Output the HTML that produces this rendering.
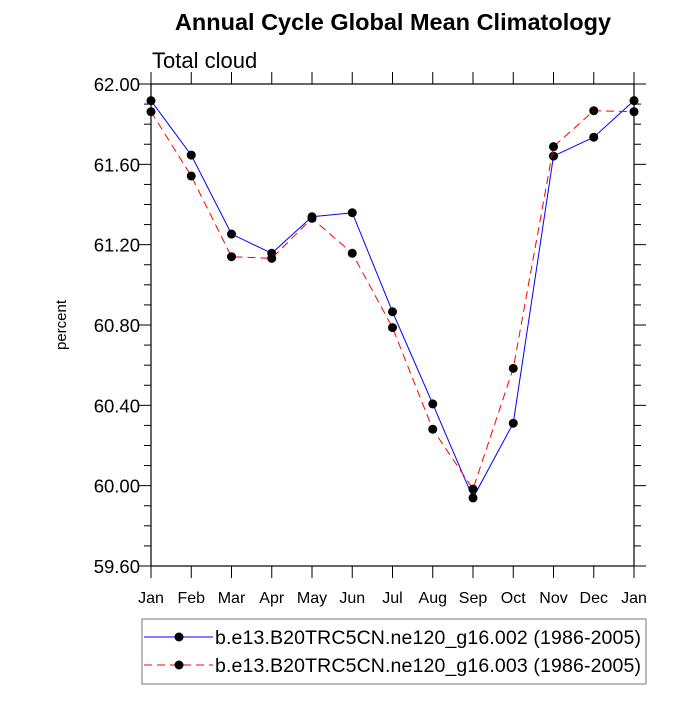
<!DOCTYPE html>
<html><head><meta charset="utf-8"><style>
html,body{margin:0;padding:0;background:#fff;}
svg text{font-family:"Liberation Sans",sans-serif;}
</style></head><body>
<svg id="chart" width="700" height="700" viewBox="0 0 700 700" xmlns="http://www.w3.org/2000/svg">
<text x="393" y="30" text-anchor="middle" font-size="23.5" font-weight="bold">Annual Cycle Global Mean Climatology</text>
<text x="152" y="68" font-size="22">Total cloud</text>
<text transform="translate(66,325) rotate(-90)" text-anchor="middle" font-size="15">percent</text>
<g id="plot"></g>
<g>
<rect x="142" y="619" width="504" height="65" fill="none" stroke="#777" stroke-width="1"/>
<g>
<line x1="144" y1="637" x2="213" y2="637" stroke="#0000ff" stroke-width="1"/>
<circle cx="179" cy="637" r="4.5" fill="#000"/>
<text x="215" y="644" textLength="426" font-size="19.5">b.e13.B20TRC5CN.ne120_g16.002 (1986-2005)</text>
</g>
<g>
<line x1="144" y1="665" x2="213" y2="665" stroke="#ff0000" stroke-width="1" stroke-dasharray="8,5"/>
<circle cx="179" cy="665" r="4.5" fill="#000"/>
<text x="215" y="672" textLength="426" font-size="19.5">b.e13.B20TRC5CN.ne120_g16.003 (1986-2005)</text>
</g>
</g>
</svg>
<script>
const months = ["Jan","Feb","Mar","Apr","May","Jun","Jul","Aug","Sep","Oct","Nov","Dec","Jan"];
const series002 = [61.917,61.646,61.253,61.157,61.339,61.359,60.866,60.407,59.939,60.311,61.641,61.735,61.917];
const series003 = [61.862,61.542,61.140,61.132,61.331,61.157,60.787,60.281,59.983,60.584,61.688,61.867,61.862];
const yTicks = ["59.60","60.00","60.40","60.80","61.20","61.60","62.00"];
const L=151,R=634,T=84,B=566,yMin=59.6,yMax=62.0;
const xs=i=>L+(R-L)*i/(months.length-1);
const ys=v=>B-(v-yMin)/(yMax-yMin)*(B-T);
const NS="http://www.w3.org/2000/svg";
const g=document.getElementById('plot');
function mk(t,a){const e=document.createElementNS(NS,t);for(const k in a)e.setAttribute(k,a[k]);g.appendChild(e);return e;}
let fr=mk('rect',{x:L,y:T,width:R-L,height:B-T,fill:'none',stroke:'#000','stroke-width':1.2});


for(let v=yMin;v<=yMax+1e-6;v+=0.1){
  const y=ys(v);const major=Math.abs((v-yMin)/0.4-Math.round((v-yMin)/0.4))<1e-3;const len=major?12:7;
  let t1=mk('line',{x1:L-len,y1:y,x2:L,y2:y,stroke:'#000','stroke-width':1});
  
  
  let t2=mk('line',{x1:R,y1:y,x2:R+len,y2:y,stroke:'#000','stroke-width':1});
  
  
}
yTicks.forEach(s=>{
  const tx=mk('text',{x:140,y:ys(parseFloat(s))+7,'text-anchor':'end','font-size':18.5});tx.textContent=s;
  
  
});
months.forEach((m,i)=>{
  const x=xs(i);
  let a=mk('line',{x1:x,y1:B,x2:x,y2:B+12,stroke:'#000','stroke-width':1});
  
  
  let b=mk('line',{x1:x,y1:T-12,x2:x,y2:T,stroke:'#000','stroke-width':1});
  
  
  const tx=mk('text',{x:x,y:603,'text-anchor':'middle','font-size':16});tx.textContent=m;
  
  
});
function drawSeries(vals,color,dash,name){
  const p=mk('polyline',{points:vals.map((v,i)=>xs(i)+','+ys(v)).join(' '),fill:'none',stroke:color,'stroke-width':1,'stroke-dasharray':dash});
  
  
  vals.forEach((v,i)=>{
    const c=mk('circle',{cx:xs(i),cy:ys(v),r:4.5,fill:'#000'});
    
    
  });
}
drawSeries(series002,'#0000ff','none','series-002');
drawSeries(series003,'#ff0000','8,5','series-003');
</script>
</body></html>
